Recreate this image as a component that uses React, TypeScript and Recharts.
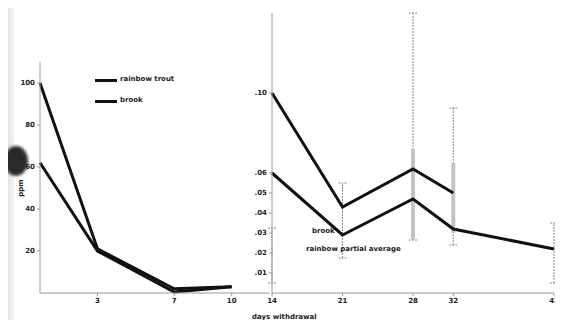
import { LineChart, Line, XAxis, YAxis, ErrorBar } from 'recharts';

// left panel: first 10 days
const leftDays = [0, 3, 7, 10];
const rainbowEarly = [100, 21, 2, 3];
const brookEarly = [62, 20, 0.5, 3];
const leftTicksX = [3, 7, 10];
const leftTicksY = [20, 40, 60, 80, 100];

// right panel: later days
const rightDays = [14, 21, 28, 32, 42];
const rainbowLate = [0.1, 0.043, 0.062, 0.05, null];
const brookLate = [0.06, 0.029, 0.047, 0.032, 0.022];
const rangeLow = [0.005, 0.0175, 0.0265, 0.024, 0.005];
const rangeHigh = [0.0325, 0.055, 0.14, 0.0925, 0.035];
const innerLow = [null, null, 0.027, 0.03, null];
const innerHigh = [null, null, 0.072, 0.065, null];
const rightTicksX = [14, 21, 28, 32, 42];
const rightTicksY = [0.01, 0.02, 0.03, 0.04, 0.05, 0.06, 0.1];

const leftData = leftDays.map((d, i) => ({
  day: d,
  rainbow: rainbowEarly[i],
  brook: brookEarly[i],
}));

const rightData = rightDays.map((d, i) => {
  const mid = (rangeLow[i] + rangeHigh[i]) / 2;
  const lo = innerLow[i];
  const hi = innerHigh[i];
  const imid = lo != null && hi != null ? (lo + hi) / 2 : null;
  return {
    day: d,
    rainbow: rainbowLate[i],
    brook: brookLate[i],
    mid,
    spread: [mid - rangeLow[i], rangeHigh[i] - mid],
    imid,
    ispread: imid != null ? [imid - (lo as number), (hi as number) - imid] : [0, 0],
  };
});

const tick = { fontSize: 7, fontWeight: 'bold' as const, fill: '#222', fontFamily: 'DejaVu Sans' };
const axisStroke = '#9a9a9a';
const label = { position: 'absolute' as const, fontFamily: 'DejaVu Sans', fontSize: 7, fontWeight: 'bold' as const, color: '#222', whiteSpace: 'nowrap' as const };

export default function App() {
  return (
    <div style={{ position: 'relative', width: 563, height: 328, background: '#fff', margin: -8, overflow: 'hidden' }}>
      {/* scan edge + punch hole */}
      <div style={{ position: 'absolute', left: 0, top: 0, width: 14, height: 328, background: 'linear-gradient(90deg,#cfcfcf,#f4f4f4)' }} />
      <div style={{ position: 'absolute', left: 4, top: 146, width: 24, height: 30, borderRadius: '50%', background: '#2a2a2a', filter: 'blur(1.5px)' }} />

      <div style={{ position: 'absolute', left: 0, top: 0 }}>
        <LineChart width={272} height={310} data={leftData} margin={{ top: 62, right: 2, bottom: 0, left: 0 }}>
          <XAxis dataKey="day" type="number" domain={[0, 12]} ticks={leftTicksX} tick={tick}
            stroke={axisStroke} tickSize={3} height={17} interval={0} />
          <YAxis type="number" domain={[0, 110]} ticks={leftTicksY} tick={tick}
            stroke={axisStroke} tickSize={3} width={40} interval={0} />
          <Line dataKey="rainbow" stroke="#111" strokeWidth={3} dot={false} isAnimationActive={false} />
          <Line dataKey="brook" stroke="#111" strokeWidth={3} dot={false} isAnimationActive={false} />
        </LineChart>
      </div>

      <div style={{ position: 'absolute', left: 232, top: 0 }}>
        <LineChart width={331} height={310} data={rightData} margin={{ top: 13, right: 9, bottom: 0, left: 0 }}>
          <XAxis dataKey="day" type="number" domain={[14, 42]} ticks={rightTicksX} tick={tick}
            stroke={axisStroke} tickSize={3} height={17} interval={0} />
          <YAxis type="number" domain={[0, 0.14]} ticks={rightTicksY} tick={tick}
            tickFormatter={(v: number) => v.toFixed(2).replace(/^0/, '')}
            stroke={axisStroke} tickSize={3} width={40} interval={0} />
          <Line dataKey="mid" stroke="none" dot={false} isAnimationActive={false}>
            <ErrorBar dataKey="spread" direction="y" width={4} stroke="#8a8a8a" strokeWidth={1} strokeDasharray="2 1" />
          </Line>
          <Line dataKey="imid" stroke="none" dot={false} isAnimationActive={false}>
            <ErrorBar dataKey="ispread" direction="y" width={0} stroke="#c4c4c4" strokeWidth={4} />
          </Line>
          <Line dataKey="rainbow" stroke="#111" strokeWidth={3} dot={false} isAnimationActive={false} />
          <Line dataKey="brook" stroke="#111" strokeWidth={3} dot={false} isAnimationActive={false} />
        </LineChart>
      </div>

      {/* left legend */}
      <div style={{ position: 'absolute', left: 95, top: 79, width: 22, height: 3, background: '#111' }} />
      <div style={{ ...label, left: 120, top: 75 }}>rainbow trout</div>
      <div style={{ position: 'absolute', left: 95, top: 100, width: 22, height: 3, background: '#111' }} />
      <div style={{ ...label, left: 120, top: 96 }}>brook</div>

      {/* right legend */}
      <div style={{ ...label, left: 312, top: 227 }}>brook</div>
      <div style={{ ...label, left: 306, top: 245 }}>rainbow partial average</div>

      {/* axis titles */}
      <div style={{ ...label, left: 12, top: 184, transform: 'rotate(-90deg)' }}>ppm</div>
      <div style={{ ...label, left: 252, top: 313 }}>days withdrawal</div>
    </div>
  );
}
